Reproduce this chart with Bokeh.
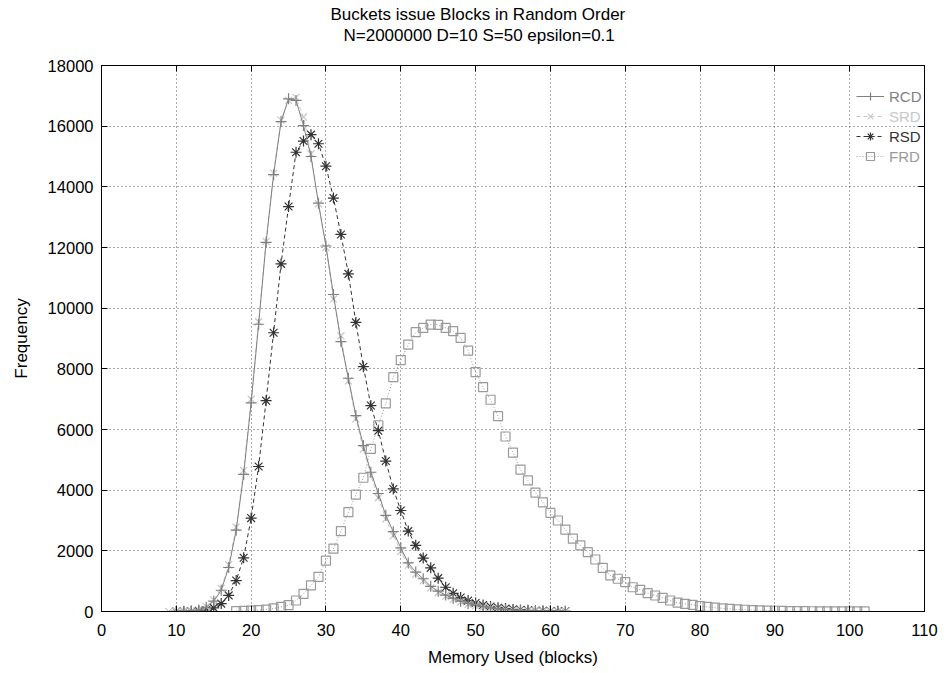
from bokeh.plotting import figure
from bokeh.models import (LinearAxis, Legend, LegendItem, Title, FixedTicker,
                          Range1d, ColumnDataSource, CustomJSTickFormatter)
from bokeh.embed import file_html
from bokeh.resources import INLINE

# ---------------- data ----------------
title_line1 = "Buckets issue Blocks in Random Order"
title_line2 = "N=2000000 D=10 S=50 epsilon=0.1"
x_label = "Memory Used (blocks)"
y_label = "Frequency"

x_ticks = list(range(0, 111, 10))
y_ticks = list(range(0, 18001, 2000))

rcd_x = list(range(10, 63))
rcd_y = [2, 6, 18, 50, 140, 340, 700, 1450, 2680, 4520, 6880, 9470, 12170, 14400,
         16150, 16900, 16850, 16020, 15000, 13460, 12050, 10450, 8900, 7690, 6460,
         5470, 4590, 3890, 3170, 2630, 2100, 1600, 1300, 1080, 830, 670, 540, 430,
         340, 265, 205, 160, 120, 90, 68, 50, 37, 27, 20, 14, 10, 6, 4]

srd_x = list(range(9, 63))
srd_y = [1, 3, 8, 22, 60, 160, 380, 760, 1540, 2780, 4650, 7000, 9550, 12200, 14450,
         16200, 16850, 16950, 16300, 15090, 13440, 12000, 10300, 9090, 7600, 6350,
         5350, 4480, 3750, 3050, 2500, 1980, 1520, 1230, 1010, 780, 620, 500, 395,
         310, 240, 185, 140, 105, 80, 60, 45, 33, 24, 17, 12, 8, 5, 3]

rsd_x = list(range(10, 63))
rsd_y = [1, 3, 8, 20, 50, 120, 260, 530, 1020, 1770, 3080, 4780, 6950, 9190, 11460,
         13350, 15140, 15510, 15720, 15420, 14680, 13630, 12430, 11130, 9530, 8070,
         6790, 5960, 4960, 4040, 3330, 2650, 2180, 1760, 1440, 1100, 800, 600, 460,
         360, 280, 215, 165, 125, 95, 70, 52, 38, 28, 20, 14, 9, 6]

frd_x = list(range(18, 103))
frd_y = [15, 20, 30, 45, 65, 100, 150, 210, 363, 583, 860, 1140, 1680, 2070, 2650,
         3275, 3850, 4410, 5360, 6140, 6860, 7725, 8285, 8800, 9210, 9350, 9460,
         9450, 9350, 9240, 9020, 8600, 7890, 7395, 6980, 6440, 5770, 5240, 4680,
         4320, 3920, 3600, 3250, 3000, 2700, 2400, 2180, 1955, 1715, 1440, 1190,
         1080, 966, 800, 715, 603, 528, 452, 363, 290, 254, 221, 180, 150, 125, 105,
         85, 70, 57, 46, 37, 30, 24, 19, 15, 12, 10, 8, 6, 5, 4, 3, 2, 2, 1]

series_names = ["RCD", "SRD", "RSD", "FRD"]

# ---------------- styles ----------------
FONT = "Liberation Sans"
col_rcd = "#7f7f7f"
col_srd = "#c8c8c8"
col_rsd = "#333333"
col_frd = "#9a9a9a"

W, H = 944, 670
BL, BR, BT, BB = 101, 20, 65, 59   # frame: 101..924 x 65..611

p = figure(width=W, height=H, x_range=Range1d(0, 110), y_range=Range1d(0, 18000),
           output_backend="svg", toolbar_location=None, title_location=None,
           min_border_left=BL, min_border_right=BR, min_border_top=BT,
           min_border_bottom=BB)
p.background_fill_color = "white"
p.border_fill_color = "white"
p.outline_line_color = "black"
p.outline_line_width = 1

# axes
for ax in (p.xaxis[0], p.yaxis[0]):
    ax.major_tick_in = 6
    ax.major_tick_out = 0
    ax.minor_tick_line_color = None
    ax.axis_line_color = "black"
    ax.major_tick_line_color = "black"
    ax.major_label_text_font = FONT
    ax.major_label_text_font_size = "16.5px"
    ax.major_label_text_color = "black"
    ax.axis_label_text_font = FONT
    ax.axis_label_text_font_size = "17px"
    ax.axis_label_text_font_style = "normal"
    ax.axis_label_text_color = "black"

p.xaxis.ticker = FixedTicker(ticks=x_ticks)
p.yaxis.ticker = FixedTicker(ticks=y_ticks)
p.xaxis.axis_label = x_label
p.yaxis.axis_label = y_label
p.xaxis.major_label_standoff = 12
p.yaxis.major_label_standoff = 8
p.xaxis.axis_label_standoff = 9
p.yaxis.axis_label_standoff = 14

# mirror axes (ticks only, labels not drawn)
blank = CustomJSTickFormatter(code="return ''")
top_ax = LinearAxis(ticker=FixedTicker(ticks=x_ticks), major_tick_in=6, major_tick_out=0,
                    minor_tick_line_color=None, formatter=blank,
                    major_label_text_color=None, major_label_text_font_size="1px",
                    major_label_standoff=0)
right_ax = LinearAxis(ticker=FixedTicker(ticks=y_ticks), major_tick_in=6, major_tick_out=0,
                      minor_tick_line_color=None, formatter=blank,
                      major_label_text_color=None, major_label_text_font_size="1px",
                      major_label_standoff=0)
p.add_layout(right_ax, "right")
p.add_layout(top_ax, "above")

# grid
p.xgrid.ticker = FixedTicker(ticks=x_ticks)
p.ygrid.ticker = FixedTicker(ticks=y_ticks)
for g in (p.xgrid[0], p.ygrid[0]):
    g.grid_line_color = "#555555"
    g.grid_line_dash = "1 3"
    g.grid_line_width = 1

# white (invisible) spacer between the frame and the title lines
p.add_layout(Title(text=".", align="left", offset=0, text_font=FONT,
                   text_font_size="17px", text_color="white", standoff=7), "above")
# titles: inner (second line) first, then outer (first line)
p.add_layout(Title(text=title_line2, align="left", offset=242, standoff=0,
                   vertical_align="bottom", text_font=FONT, text_font_size="17px",
                   text_font_style="normal", text_color="black"), "above")
p.add_layout(Title(text=title_line1, align="left", offset=229, standoff=0,
                   vertical_align="bottom", text_font=FONT, text_font_size="17px",
                   text_font_style="normal", text_color="black"), "above")

# series
s_rcd = ColumnDataSource(dict(x=rcd_x, y=rcd_y))
s_srd = ColumnDataSource(dict(x=srd_x, y=srd_y))
s_rsd = ColumnDataSource(dict(x=rsd_x, y=rsd_y))
s_frd = ColumnDataSource(dict(x=frd_x, y=frd_y))

l_frd = p.line("x", "y", source=s_frd, line_color=col_frd, line_dash="1 2", line_width=1)
m_frd = p.scatter("x", "y", source=s_frd, marker="square", size=9, fill_color=None,
                  line_color=col_frd, line_width=1.2)
l_rsd = p.line("x", "y", source=s_rsd, line_color=col_rsd, line_dash="4 3", line_width=1)
m_rsd = p.scatter("x", "y", source=s_rsd, marker="asterisk", size=11,
                  line_color=col_rsd, line_width=1.2)
l_srd = p.line("x", "y", source=s_srd, line_color=col_srd, line_dash="4 3", line_width=1)
m_srd = p.scatter("x", "y", source=s_srd, marker="x", size=10,
                  line_color=col_srd, line_width=1.2)
l_rcd = p.line("x", "y", source=s_rcd, line_color=col_rcd, line_width=1)
m_rcd = p.scatter("x", "y", source=s_rcd, marker="cross", size=11,
                  line_color=col_rcd, line_width=1.2)

legend_specs = [
    (series_names[0], [l_rcd, m_rcd], col_rcd, 505),
    (series_names[1], [l_srd, m_srd], col_srd, 485),
    (series_names[2], [l_rsd, m_rsd], col_rsd, 465),
    (series_names[3], [l_frd, m_frd], col_frd, 445),
]
for name, rends, col, ypos in legend_specs:
    lg = Legend(items=[LegendItem(label=name, renderers=rends)], location=(755, ypos),
                orientation="vertical", background_fill_alpha=0, border_line_color=None,
                label_text_font=FONT, label_text_font_size="15px", label_text_color=col,
                glyph_width=28, glyph_height=20, label_height=20, label_standoff=5,
                padding=0, margin=0, spacing=0)
    p.add_layout(lg, "center")

open("out.html", "w").write(file_html(p, INLINE))
